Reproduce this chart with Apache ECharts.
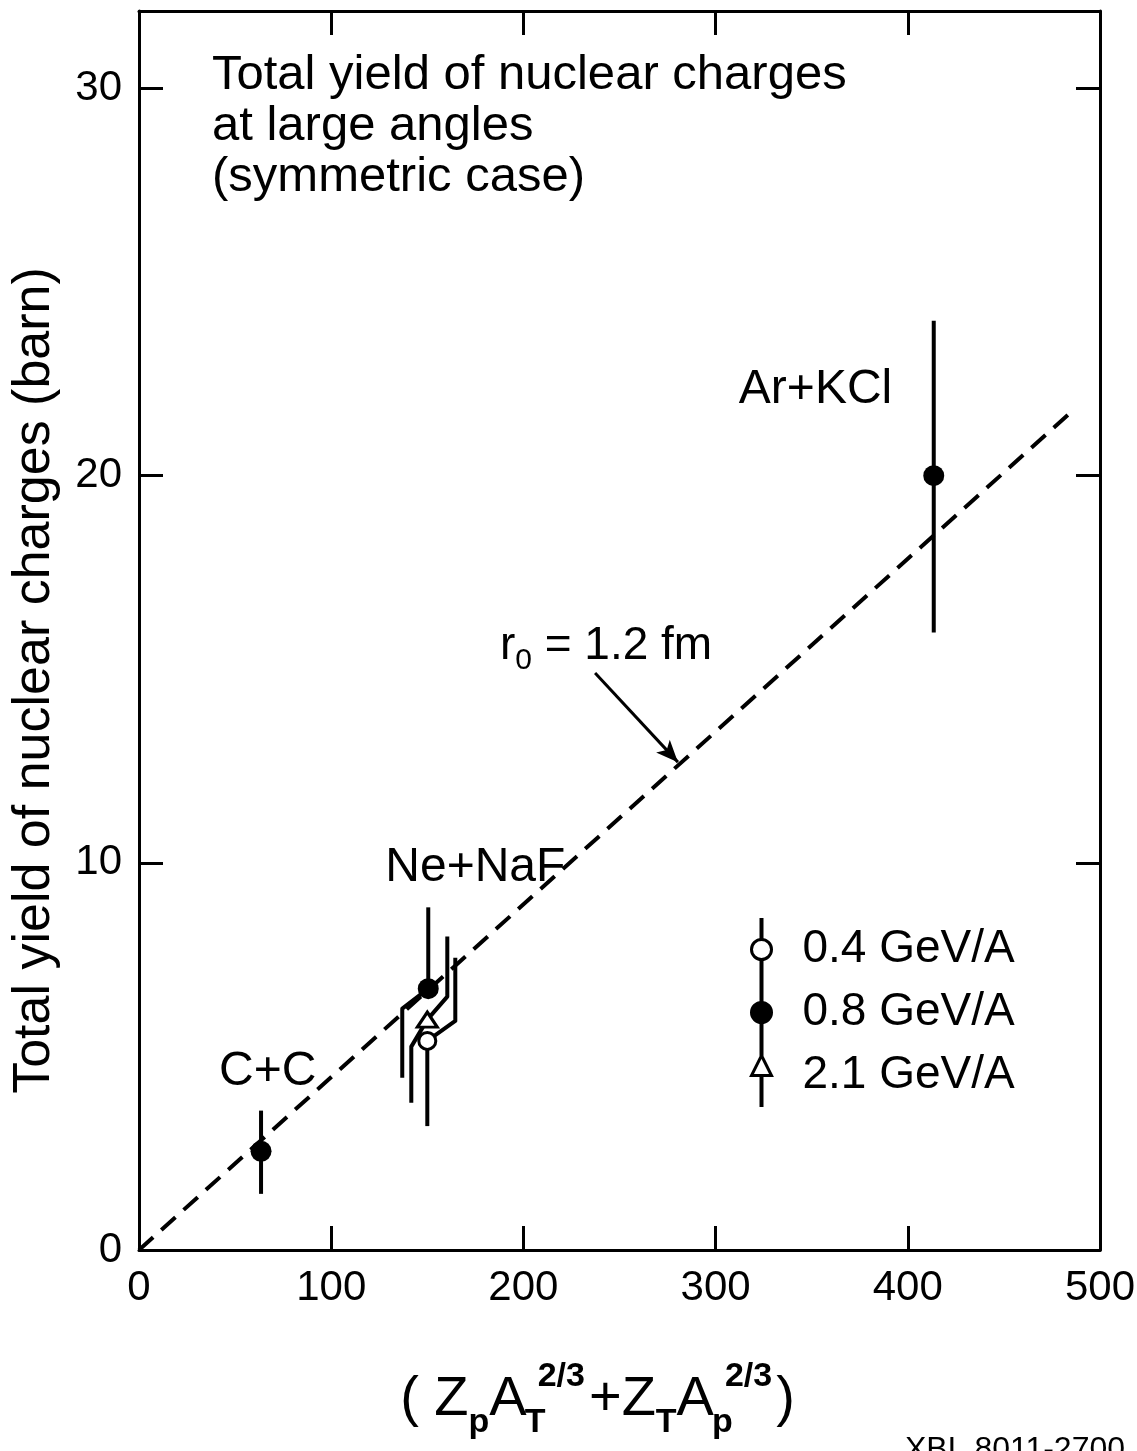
<!DOCTYPE html>
<html>
<head>
<meta charset="utf-8">
<script src="https://cdn.jsdelivr.net/npm/echarts@6/dist/echarts.min.js"></script>
<style>
html,body{margin:0;padding:0;background:#fff;}
#c{width:1137px;height:1451px;}
</style>
</head>
<body>
<div id="c"></div>
<script>
// ---------------- data ----------------
const xTicks = [0, 100, 200, 300, 400, 500];
const yTicks = [0, 10, 20, 30];
const systems = ['C+C', 'Ne+NaF', 'Ar+KCl'];
const energyNames = ['0.4 GeV/A', '0.8 GeV/A', '2.1 GeV/A'];

// 0.4 GeV/A (open circles)
const x04 = [150];
const y04 = [5.4];
const lo04 = [3.2];
const hi04 = [7.55];

// 0.8 GeV/A (filled circles): C+C, Ne+NaF, Ar+KCl
const x08 = [63.5, 150.5, 413.5];
const y08 = [2.55, 6.75, 20.0];
const lo08 = [1.45, 4.45, 15.95];
const hi08 = [3.6, 8.85, 24.0];

// 2.1 GeV/A (open triangles)
const x21 = [150];
const y21 = [5.95];
const lo21 = [3.8];
const hi21 = [8.1];

// r0 = 1.2 fm line
const fitX = [0, 484];
const fitY = [0, 21.6];

// ---------------- styles / layout ----------------
const FONT = '"Liberation Sans", Arial, sans-serif';
const BLACK = '#000';
// pixel jogs of displaced error bars: [dx, dy] of the kink relative to marker centre
const jog04 = [{ up: [28, 20], down: null }];
const jog08 = [{ up: null, down: null }, { up: null, down: [-26, 20] }, { up: null, down: null }];
const jog21 = [{ up: [20, 23], down: [-16, 27] }];
// annotation anchors (data coordinates)
const sysLabelPos = [[67, 4.6], [175, 9.86], [352, 22.23]];
const r0LabelPos = [187.5, 15.6];
const arrowFrom = [237.3, 14.9];
const arrowTo = [280.4, 12.6];

function errRender(jogs) {
  return function (params, api) {
    const x = api.value(0), y = api.value(1), lo = api.value(2), hi = api.value(3);
    const c = api.coord([x, y]);
    const t = api.coord([x, hi]);
    const b = api.coord([x, lo]);
    const j = jogs[params.dataIndex] || {};
    const upPts = j.up ? [c, [c[0] + j.up[0], c[1] - j.up[1]], [c[0] + j.up[0], t[1]]] : [c, t];
    const dnPts = j.down ? [c, [c[0] + j.down[0], c[1] + j.down[1]], [c[0] + j.down[0], b[1]]] : [c, b];
    const st = { stroke: BLACK, lineWidth: 4, fill: null, lineJoin: 'round' };
    return {
      type: 'group',
      children: [
        { type: 'polyline', shape: { points: upPts }, style: st },
        { type: 'polyline', shape: { points: dnPts }, style: st }
      ]
    };
  };
}

const pack = (xs, ys, los, his) => xs.map((x, i) => [x, ys[i], los[i], his[i]]);
const pts = (xs, ys) => xs.map((x, i) => [x, ys[i]]);

const axisCommon = {
  type: 'value',
  axisLine: { show: true, onZero: false, lineStyle: { color: BLACK, width: 3 } },
  axisTick: { show: true, inside: true, length: 24, lineStyle: { color: BLACK, width: 3 } },
  splitLine: { show: false },
  minorTick: { show: false }
};

const circleIcon = 'path://M9.5,0L10.5,0L10.5,20L9.5,20Z M9.5,40L10.5,40L10.5,60L9.5,60Z M0,30A10,10,0,1,1,20,30A10,10,0,1,1,0,30Z';
const triIcon = 'path://M9.5,0L10.5,0L10.5,10L9.5,10Z M10,10L20,30L0,30Z M9.5,30L10.5,30L10.5,60L9.5,60Z';

const option = {
  backgroundColor: '#fff',
  animation: false,
  textStyle: { fontFamily: FONT, color: BLACK },
  title: {
    text: 'Total yield of nuclear charges\nat large angles\n(symmetric case)',
    left: 212, top: 50, padding: 0,
    textStyle: { fontSize: 49, lineHeight: 51, fontWeight: 'normal', color: BLACK, fontFamily: FONT }
  },
  grid: { left: 139, right: 37, top: 11, bottom: 201, containLabel: false, outerBoundsMode: 'none' },
  legend: {
    orient: 'vertical', left: 745, top: 913,
    itemWidth: 20, itemHeight: 60, itemGap: 0,
    selectedMode: false,
    formatter: n => '{t|' + n + '}',
    textStyle: {
      fontSize: 46, color: BLACK, fontFamily: FONT,
      rich: { t: { fontSize: 46, color: BLACK, fontFamily: FONT, padding: [0, 0, 0, 26] } }
    },
    data: [
      { name: energyNames[0], icon: circleIcon, itemStyle: { color: '#fff', borderColor: BLACK, borderWidth: 3 } },
      { name: energyNames[1], icon: circleIcon, itemStyle: { color: BLACK, borderColor: BLACK, borderWidth: 3 } },
      { name: energyNames[2], icon: triIcon, itemStyle: { color: '#fff', borderColor: BLACK, borderWidth: 3 } }
    ]
  },
  xAxis: [
    Object.assign({}, axisCommon, {
      position: 'bottom', min: 0, max: 500, interval: 100,
      axisTick: Object.assign({}, axisCommon.axisTick, { customValues: xTicks }),
      axisLabel: { show: true, customValues: xTicks, fontSize: 42, color: BLACK, fontFamily: FONT, margin: 17 },
      name: '{m|( Z}{sb|p}{m|A}{sz|T}{sp|2/3}{m|+Z}{sb|T}{m|A}{sz|p}{sp|2/3}{m|)}',
      nameLocation: 'middle', nameGap: 110,
      nameTextStyle: {
        padding: [0, 44, 0, 0],
        rich: {
          m: { fontSize: 56, lineHeight: 80, color: BLACK, fontFamily: FONT },
          sb: { fontSize: 34, lineHeight: 16, verticalAlign: 'bottom', fontWeight: 'bold', color: BLACK, fontFamily: FONT },
          sz: { fontSize: 34, lineHeight: 16, verticalAlign: 'bottom', fontWeight: 'bold', color: BLACK, fontFamily: FONT, width: 1, align: 'left', padding: [0, 0, 0, 8] },
          sp: { fontSize: 34, lineHeight: 36, verticalAlign: 'top', fontWeight: 'bold', color: BLACK, fontFamily: FONT, padding: [0, 4, 0, 2] }
        }
      }
    }),
    Object.assign({}, axisCommon, {
      position: 'top', min: 0, max: 500, interval: 100,
      axisTick: Object.assign({}, axisCommon.axisTick, { customValues: xTicks }),
      axisLabel: { show: false }
    })
  ],
  yAxis: [
    Object.assign({}, axisCommon, {
      position: 'left', min: 0, max: 32, interval: 10,
      axisTick: Object.assign({}, axisCommon.axisTick, { customValues: yTicks }),
      axisLabel: { show: true, customValues: yTicks, fontSize: 42, color: BLACK, fontFamily: FONT, margin: 17 },
      name: 'Total yield of nuclear charges (barn)',
      nameLocation: 'middle', nameGap: 78,
      nameTextStyle: { fontSize: 52, color: BLACK, fontFamily: FONT, padding: [0, 100, 0, 0] }
    }),
    Object.assign({}, axisCommon, {
      position: 'right', min: 0, max: 32, interval: 10,
      axisTick: Object.assign({}, axisCommon.axisTick, { customValues: yTicks }),
      axisLabel: { show: false }
    })
  ],
  graphic: [
    { type: 'text', left: 905, top: 1434, silent: true,
      style: { text: 'XBL 8011-2700', fontSize: 32, fill: BLACK, fontFamily: FONT } }
  ],
  series: [
    {
      name: 'r0 line', type: 'line', data: pts(fitX, fitY),
      xAxisIndex: 0, yAxisIndex: 0,
      symbol: 'none', showSymbol: false, silent: true, z: 1,
      lineStyle: { color: BLACK, width: 4, type: [19, 11] },
      markLine: {
        silent: true, symbol: ['none', 'arrow'], symbolSize: [14, 22], animation: false,
        label: { show: false },
        lineStyle: { type: 'solid', width: 3, color: BLACK },
        data: [[{ coord: arrowFrom }, { coord: arrowTo }]]
      },
      markPoint: {
        silent: true, symbol: 'circle', symbolSize: 1, animation: false,
        itemStyle: { color: 'rgba(0,0,0,0)' },
        label: { show: true, position: 'inside', color: BLACK, fontSize: 48, fontFamily: FONT, formatter: p => p.name },
        data: systems.map((s, i) => ({ name: s, coord: sysLabelPos[i] })).concat([{
          name: 'r0', coord: r0LabelPos,
          label: {
            position: 'right', distance: 0,
            formatter: '{a|r}{b|0}{a| = 1.2 fm}',
            rich: {
              a: { fontSize: 46, lineHeight: 60, color: BLACK, fontFamily: FONT },
              b: { fontSize: 30, lineHeight: 20, verticalAlign: 'bottom', color: BLACK, fontFamily: FONT }
            }
          }
        }])
      }
    },
    { name: 'err04', type: 'custom', data: pack(x04, y04, lo04, hi04), encode: { x: 0, y: 1 }, renderItem: errRender(jog04), z: 2, silent: true },
    { name: 'err08', type: 'custom', data: pack(x08, y08, lo08, hi08), encode: { x: 0, y: 1 }, renderItem: errRender(jog08), z: 2, silent: true },
    { name: 'err21', type: 'custom', data: pack(x21, y21, lo21, hi21), encode: { x: 0, y: 1 }, renderItem: errRender(jog21), z: 2, silent: true },
    { name: energyNames[0], type: 'scatter', data: pts(x04, y04), symbol: 'circle', symbolSize: 17, z: 3, silent: true,
      itemStyle: { color: '#fff', borderColor: BLACK, borderWidth: 3, opacity: 1 } },
    { name: energyNames[1], type: 'scatter', data: pts(x08, y08), symbol: 'circle', symbolSize: 21, z: 3, silent: true,
      itemStyle: { color: BLACK, borderColor: BLACK, borderWidth: 0, opacity: 1 } },
    { name: energyNames[2], type: 'scatter', data: pts(x21, y21), symbol: 'triangle', symbolSize: [20, 15], z: 4, silent: true,
      itemStyle: { color: '#fff', borderColor: BLACK, borderWidth: 3, opacity: 1 } }
  ]
};

const chart = echarts.init(document.getElementById('c'), null, { renderer: 'canvas' });
chart.setOption(option);
</script>
</body>
</html>
